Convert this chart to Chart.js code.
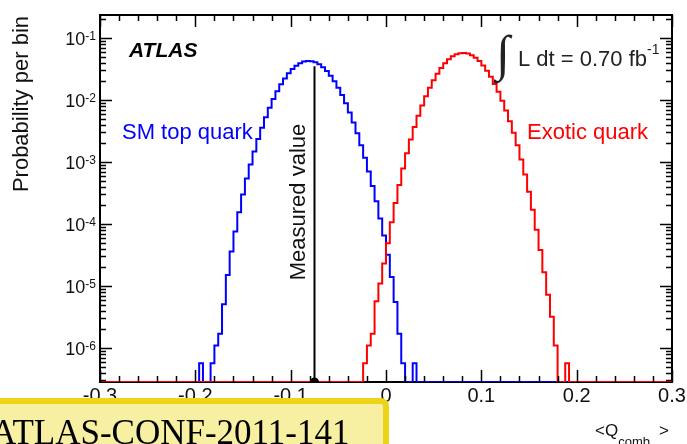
<!DOCTYPE html>
<html>
<head>
<meta charset="utf-8">
<script src="https://cdn.jsdelivr.net/npm/chart.js@4"></script>
<style>
html, body { margin: 0; padding: 0; background: #fff; }
</style>
</head>
<body>
<canvas id="myChart" width="687" height="444"></canvas>
<script>
// histogram bins, width 0.004, values = probability per bin
var binWidth = 0.004;
var smStart = -0.196;
var smValues = [5.7e-7, 0, 0, 5.7e-7, 1.1e-6, 1.7e-6, 5.1e-6, 1.5e-5, 3.6e-5, 7.6e-5,
	1.55e-4, 3.0e-4, 5.4e-4, 9.1e-4, 1.48e-3, 2.34e-3, 3.56e-3, 5.26e-3, 7.5e-3, 0.0104,
	0.0138, 0.0179, 0.0223, 0.0270, 0.0316, 0.0358, 0.0393, 0.0416, 0.0427, 0.0423,
	0.0406, 0.0377, 0.0338, 0.0294, 0.0247, 0.0201, 0.0158, 0.0120, 0.00885, 0.00631,
	0.00435, 0.0029, 0.00187, 0.00117, 7.05e-4, 4.11e-4, 2.33e-4, 1.23e-4, 6.5e-5, 3.2e-5,
	1.4e-5, 5.5e-6, 1.7e-6, 5.7e-7, 0, 0, 5.7e-7];
var exoticStart = -0.024;
var exoticValues = [5.7e-7, 1.1e-6, 1.7e-6, 5.7e-6, 1.1e-5, 2.3e-5, 4.9e-5, 1.07e-4, 2.19e-4, 4.27e-4,
	7.85e-4, 1.38e-3, 2.30e-3, 3.66e-3, 5.57e-3, 8.15e-3, 0.0115, 0.0158, 0.0208, 0.0266,
	0.0329, 0.0393, 0.0454, 0.0506, 0.0546, 0.0570, 0.0575, 0.0560, 0.0528, 0.0481,
	0.0424, 0.0361, 0.0297, 0.0237, 0.0182, 0.0136, 0.00973, 0.00678, 0.00455, 0.00296,
	0.00186, 0.0011, 6.3e-4, 3.3e-4, 1.7e-4, 8.1e-5, 3.8e-5, 1.66e-5, 7.2e-6, 3.2e-6,
	1.1e-6, 0, 0, 5.7e-7];
var measuredValue = -0.075;
var measuredTop = 0.035;

var xMin = -0.3, xMax = 0.3;
var yMin = 2.83e-7, yMax = 0.235;
var xTickValues = [-0.3, -0.2, -0.1, 0, 0.1, 0.2, 0.3];
var xTickLabels = ['-0.3', '-0.2', '-0.1', '0', '0.1', '0.2', '0.3'];
var yTickExponents = [-1, -2, -3, -4, -5, -6];

var SANS = '"Liberation Sans", Arial, Helvetica, sans-serif';

function histPoints(start, values) {
	var pts = [{ x: xMin, y: yMin }];
	for (var i = 0; i < values.length; i++) {
		pts.push({ x: start + i * binWidth, y: values[i] > 0 ? values[i] : yMin });
	}
	pts.push({ x: start + values.length * binWidth, y: yMin });
	pts.push({ x: xMax, y: yMin });
	return pts;
}

var atlasDecor = {
	id: 'atlasDecor',
	beforeDatasetsDraw: function (chart) {
		var ctx = chart.ctx, a = chart.chartArea;
		ctx.save();
		ctx.strokeStyle = '#000';
		ctx.lineWidth = 2;
		ctx.strokeRect(a.left, a.top, a.right - a.left, a.bottom - a.top);
		ctx.restore();
	},
	afterDatasetsDraw: function (chart) {
		var ctx = chart.ctx, a = chart.chartArea;
		var xs = chart.scales.x, ys = chart.scales.y;
		ctx.save();
		ctx.strokeStyle = '#000';
		ctx.lineWidth = 1.5;
		ctx.beginPath();
		// x ticks, major every 0.1, minor every 0.02
		for (var i = 0; i <= 30; i++) {
			var px = Math.round(xs.getPixelForValue(xMin + i * 0.02)) + 0.5;
			var len = (i % 5 === 0) ? 12 : 6;
			ctx.moveTo(px, a.bottom); ctx.lineTo(px, a.bottom - len);
			ctx.moveTo(px, a.top); ctx.lineTo(px, a.top + len);
		}
		// log ticks
		for (var e = -7; e <= 0; e++) {
			for (var m = 1; m <= 9; m++) {
				var v = m * Math.pow(10, e);
				if (v < yMin || v > yMax) continue;
				var py = Math.round(ys.getPixelForValue(v)) + 0.5;
				var l = (m === 1) ? 12 : 6;
				ctx.moveTo(a.left, py); ctx.lineTo(a.left + l, py);
				ctx.moveTo(a.right, py); ctx.lineTo(a.right - l, py);
			}
		}
		ctx.stroke();
		ctx.restore();
	},
	afterDraw: function (chart) {
		var ctx = chart.ctx, a = chart.chartArea;
		var xs = chart.scales.x, ys = chart.scales.y;
		ctx.save();
		ctx.fillStyle = '#111';

		// y tick labels 10^-n
		yTickExponents.forEach(function (e) {
			var py = ys.getPixelForValue(Math.pow(10, e));
			var sup = String(e);
			ctx.font = '12px ' + SANS;
			var supW = ctx.measureText(sup).width;
			ctx.font = '18px ' + SANS;
			var baseW = ctx.measureText('10').width;
			var x0 = 96 - supW - baseW;
			ctx.textAlign = 'left';
			ctx.textBaseline = 'alphabetic';
			ctx.fillText('10', x0, py + 7);
			ctx.font = '12px ' + SANS;
			ctx.fillText(sup, x0 + baseW, py + 2);
		});

		// x tick labels
		ctx.font = '20px ' + SANS;
		ctx.textAlign = 'center';
		xTickValues.forEach(function (v, i) {
			ctx.fillText(xTickLabels[i], xs.getPixelForValue(v), 402);
		});

		// y title
		ctx.save();
		ctx.translate(28, a.top + 1);
		ctx.rotate(-Math.PI / 2);
		ctx.font = '22px ' + SANS;
		ctx.textAlign = 'right';
		ctx.fillText('Probability per bin', 0, 0);
		ctx.restore();

		// x title <Q_comb>
		ctx.textAlign = 'left';
		ctx.font = '17px ' + SANS;
		var qx = 595;
		ctx.fillText('<Q', qx, 436);
		qx += ctx.measureText('<Q').width;
		ctx.font = '13px ' + SANS;
		ctx.fillText('comb', qx, 446);
		qx += ctx.measureText('comb').width + 9;
		ctx.font = '17px ' + SANS;
		ctx.fillText('>', qx, 436);

		// ATLAS label
		ctx.fillStyle = '#000';
		ctx.font = 'italic bold 21px ' + SANS;
		ctx.fillText('ATLAS', 129, 57);

		// luminosity
		ctx.fillStyle = '#222';
		ctx.font = '50px "Liberation Serif", serif';
		ctx.fillText('\u222B', 496, 70);
		ctx.font = '22px ' + SANS;
		var lx = 518;
		ctx.fillText('L dt = 0.70 fb', lx, 66);
		lx += ctx.measureText('L dt = 0.70 fb').width;
		ctx.font = '14px ' + SANS;
		ctx.fillText('-1', lx, 54);

		// curve labels
		ctx.font = '22px ' + SANS;
		ctx.fillStyle = '#0000ff';
		ctx.fillText('SM top quark', 122, 139);
		ctx.fillStyle = '#ff0000';
		ctx.fillText('Exotic quark', 527, 139);

		// measured value label
		ctx.save();
		ctx.fillStyle = '#111';
		ctx.translate(305, 202);
		ctx.rotate(-Math.PI / 2);
		ctx.textAlign = 'center';
		ctx.fillText('Measured value', 0, 0);
		ctx.restore();

		// conference note box
		ctx.beginPath();
		ctx.roundRect(-10, 401, 396, 60, 5);
		ctx.fillStyle = '#f7efa2';
		ctx.fill();
		ctx.lineWidth = 6;
		ctx.strokeStyle = '#eed417';
		ctx.stroke();
		ctx.fillStyle = '#000';
		ctx.font = '35px "Liberation Serif", "Times New Roman", serif';
		ctx.textAlign = 'left';
		ctx.fillText('ATLAS-CONF-2011-141', -9, 444);

		ctx.restore();
	}
};

var ctx = document.getElementById('myChart');
var myChart = new Chart(ctx, {
	type: 'line',
	data: {
		datasets: [
			{
				label: 'Measured value',
				data: [{ x: measuredValue, y: yMin }, { x: measuredValue, y: measuredTop }],
				borderColor: '#000',
				borderWidth: 2,
				pointRadius: [3.5, 0],
				pointBackgroundColor: '#000',
				pointBorderColor: '#000',
				order: 0
			},
			{
				label: 'Exotic quark',
				data: histPoints(exoticStart, exoticValues),
				borderColor: '#ff0000',
				borderWidth: 2,
				stepped: true,
				pointRadius: 0,
				order: 1
			},
			{
				label: 'SM top quark',
				data: histPoints(smStart, smValues),
				borderColor: '#0000ff',
				borderWidth: 2,
				stepped: true,
				pointRadius: 0,
				order: 2
			}
		]
	},
	options: {
		responsive: false,
		animation: false,
		layout: {
			padding: { left: 100, top: 15, right: 15, bottom: 62 }
		},
		plugins: {
			legend: { display: false },
			tooltip: { enabled: false }
		},
		scales: {
			x: { type: 'linear', min: xMin, max: xMax, display: false },
			y: { type: 'logarithmic', min: yMin, max: yMax, display: false }
		}
	},
	plugins: [atlasDecor]
});
</script>
</body>
</html>
